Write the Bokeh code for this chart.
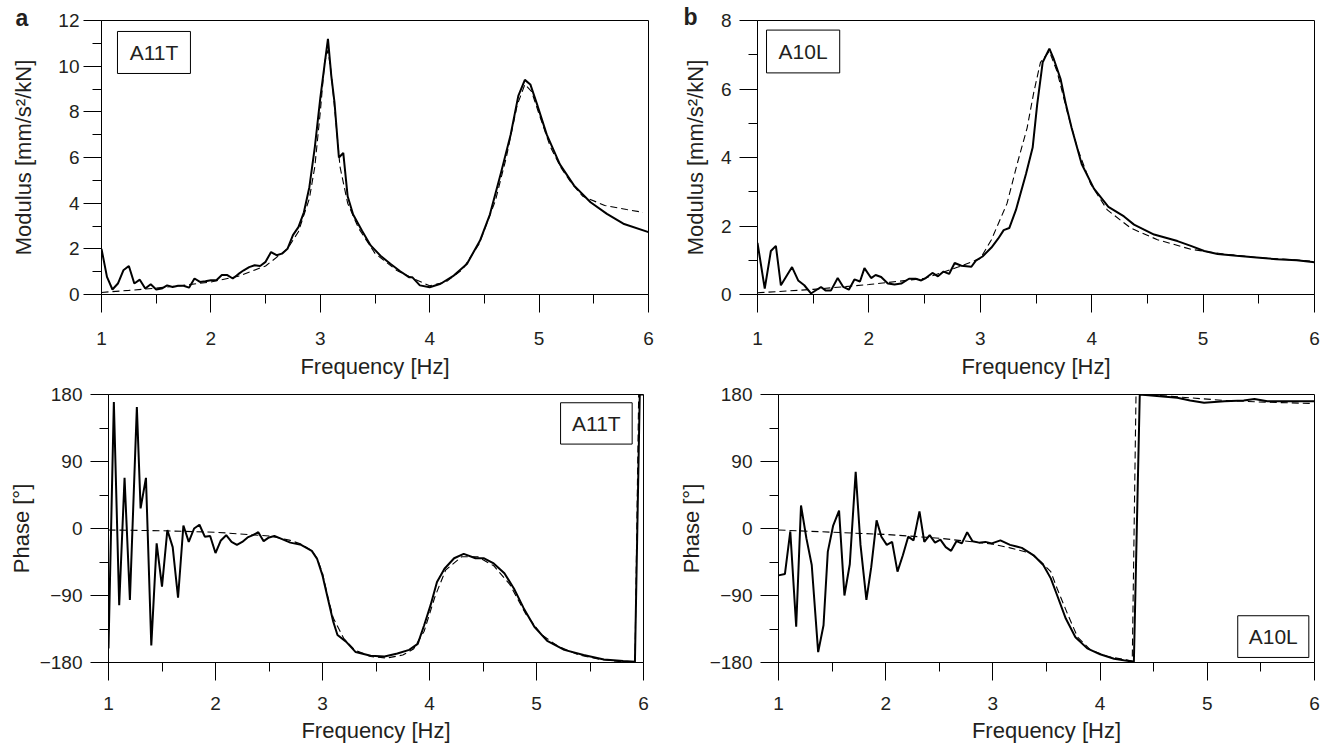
from bokeh.plotting import figure
from bokeh.layouts import column, row
from bokeh.models import Range1d, FixedTicker, Label, BoxAnnotation, Title
from bokeh.embed import file_html
from bokeh.resources import INLINE

FONT = "Liberation Sans"
TXT = "#231f20"

# ---------------- data ----------------
freq_ticks = [1, 2, 3, 4, 5, 6]
freq_minor = [1.5, 2.5, 3.5, 4.5, 5.5]
mod_a_ticks = [0, 2, 4, 6, 8, 10, 12]
mod_a_minor = [1, 3, 5, 7, 9, 11]
mod_b_ticks = [0, 2, 4, 6, 8]
mod_b_minor = [1, 3, 5, 7]
phase_ticks = [-180, -90, 0, 90, 180]
phase_minor = [-135, -45, 45, 135]

# (a) A11T modulus – measured
a_mod_f = [1.0, 1.05, 1.1, 1.15, 1.2, 1.25, 1.3, 1.35, 1.4, 1.45, 1.5, 1.55, 1.6, 1.65, 1.7,
           1.75, 1.8, 1.85, 1.9, 1.95, 2.0, 2.05, 2.1, 2.15, 2.2, 2.25, 2.3, 2.35, 2.4, 2.45,
           2.5, 2.55, 2.6, 2.65, 2.7, 2.75, 2.8, 2.85, 2.9, 2.95, 3.0, 3.04, 3.07, 3.1, 3.13,
           3.17, 3.21, 3.25, 3.3, 3.38, 3.46, 3.55, 3.64, 3.73, 3.81, 3.84, 3.91, 4.0, 4.1,
           4.22, 4.34, 4.46, 4.55, 4.65, 4.74, 4.81, 4.87, 4.92, 4.98, 5.07, 5.19, 5.32, 5.47,
           5.62, 5.77, 6.0]
a_mod_meas = [2.0, 0.77, 0.22, 0.48, 1.06, 1.25, 0.48, 0.65, 0.26, 0.45, 0.22, 0.26, 0.4, 0.33,
              0.38, 0.38, 0.3, 0.7, 0.55, 0.58, 0.62, 0.62, 0.85, 0.85, 0.7, 0.89, 1.06, 1.2,
              1.28, 1.25, 1.43, 1.86, 1.72, 1.79, 2.0, 2.6, 2.95, 3.6, 4.7, 6.45, 8.6, 10.1,
              11.2, 9.6, 8.4, 6.0, 6.2, 4.3, 3.5, 2.8, 2.15, 1.7, 1.35, 1.02, 0.76, 0.76, 0.4,
              0.32, 0.47, 0.83, 1.34, 2.36, 3.5, 5.3, 7.0, 8.7, 9.4, 9.2, 8.35, 7.0, 5.7, 4.77,
              4.04, 3.53, 3.1, 2.73]
# (a) A11T modulus – fitted
a_mod_fit_f = [1.0, 1.25, 1.5, 1.75, 2.0, 2.25, 2.5, 2.7, 2.8, 2.9, 2.95, 3.0, 3.04, 3.07, 3.1,
               3.14, 3.18, 3.25, 3.35, 3.5, 3.7, 3.85, 4.0, 4.15, 4.3, 4.45, 4.6, 4.7, 4.8, 4.87,
               4.93, 5.0, 5.1, 5.2, 5.3, 5.4, 5.6, 5.8, 5.95]
a_mod_fit = [0.09, 0.18, 0.28, 0.4, 0.55, 0.8, 1.25, 2.0, 2.75, 4.2, 5.6, 8.0, 10.2, 10.7, 9.7,
             7.7, 5.6, 4.0, 2.9, 1.8, 1.05, 0.7, 0.38, 0.55, 1.1, 2.2, 4.1, 6.0, 8.3, 9.2, 8.9,
             7.9, 6.5, 5.55, 4.85, 4.3, 3.9, 3.72, 3.6]

# (b) A10L modulus – measured
b_mod_f = [1.0, 1.065, 1.12, 1.165, 1.21, 1.31, 1.365, 1.42, 1.48, 1.57, 1.61, 1.66, 1.72, 1.77,
           1.82, 1.87, 1.92, 1.96, 2.02, 2.06, 2.11, 2.17, 2.23, 2.29, 2.36, 2.42, 2.47, 2.51,
           2.57, 2.62, 2.67, 2.72, 2.77, 2.83, 2.92, 2.96, 3.02, 3.1, 3.16, 3.21, 3.26, 3.32,
           3.41, 3.47, 3.51, 3.56, 3.62, 3.66, 3.72, 3.77, 3.82, 3.91, 4.02, 4.15, 4.29, 4.38,
           4.56, 4.77, 4.89, 5.01, 5.13, 5.3, 5.48, 5.66, 5.84, 6.0]
b_mod_meas = [1.51, 0.17, 1.27, 1.42, 0.27, 0.8, 0.41, 0.27, 0.03, 0.22, 0.12, 0.12, 0.48, 0.22,
              0.14, 0.44, 0.38, 0.77, 0.48, 0.57, 0.51, 0.32, 0.29, 0.32, 0.46, 0.46, 0.41, 0.48,
              0.63, 0.53, 0.67, 0.6, 0.92, 0.84, 0.81, 0.99, 1.11, 1.37, 1.63, 1.88, 1.94, 2.47,
              3.52, 4.29, 5.53, 6.78, 7.18, 6.87, 6.3, 5.53, 4.86, 3.81, 3.09, 2.56, 2.28, 2.04,
              1.75, 1.56, 1.42, 1.27, 1.18, 1.13, 1.08, 1.03, 1.0, 0.94]
# (b) A10L modulus – fitted
b_mod_fit_f = [1.0, 1.5, 2.0, 2.5, 2.8, 3.0, 3.1, 3.24, 3.33, 3.42, 3.48, 3.54, 3.62, 3.69, 3.78,
               3.87, 3.99, 4.14, 4.35, 4.59, 4.89, 5.19, 5.48, 5.96]
b_mod_fit = [0.05, 0.15, 0.29, 0.47, 0.8, 1.05, 1.6, 2.66, 3.8, 4.86, 5.9, 6.78, 7.1, 6.5, 5.34,
             4.29, 3.23, 2.47, 1.94, 1.6, 1.32, 1.18, 1.08, 0.98]

# (a) A11T phase – measured
a_ph_f = [1.0, 1.05, 1.1, 1.15, 1.2, 1.265, 1.3, 1.35, 1.4, 1.45, 1.5, 1.55, 1.6, 1.65, 1.7,
          1.75, 1.8, 1.85, 1.9, 1.95, 2.0, 2.05, 2.1, 2.15, 2.2, 2.25, 2.3, 2.35, 2.4, 2.45,
          2.5, 2.55, 2.6, 2.7, 2.8, 2.9, 2.95, 3.0, 3.05, 3.1, 3.14, 3.22, 3.31, 3.45, 3.58,
          3.7, 3.81, 3.89, 3.95, 4.01, 4.07, 4.14, 4.23, 4.32, 4.43, 4.51, 4.6, 4.7, 4.79,
          4.88, 4.98, 5.1, 5.26, 5.44, 5.63, 5.81, 5.92, 5.965, 6.0]
a_ph_meas = [-161, 170, -103, 68, -96, 163, 27, 68, -157, -20, -78, -2, -25, -93, 4, -18, 0, 5,
             -11, -10, -33, -16, -9, -18, -22, -18, -12, -9, -5, -17, -12, -10, -13, -19, -22,
             -30, -41, -63, -94, -125, -143, -152, -166, -171, -172, -168, -163, -155, -130,
             -103, -72, -54, -40, -34, -40, -40, -47, -60, -81, -107, -132, -151, -163, -170,
             -176, -178, -179, 180, 180]
# (a) A11T phase – fitted
a_ph_fit_f = [1.0, 1.5, 2.0, 2.5, 2.7, 2.8, 2.9, 2.95, 3.0, 3.05, 3.1, 3.2, 3.3, 3.45, 3.6, 3.75,
              3.85, 3.95, 4.05, 4.15, 4.3, 4.45, 4.6, 4.75, 4.9, 5.05, 5.2, 5.4, 5.6, 5.8, 5.92,
              5.955, 6.0]
a_ph_fit = [-2, -3, -5, -10, -16, -21, -30, -40, -60, -92, -120, -148, -163, -172, -174, -170,
            -162, -138, -92, -56, -38, -38, -50, -75, -115, -143, -158, -170, -176, -179, -180,
            180, 180]

# (b) A10L phase – measured
b_ph_f = [1.0, 1.06, 1.11, 1.165, 1.21, 1.26, 1.31, 1.37, 1.42, 1.46, 1.51, 1.565, 1.615, 1.665,
          1.72, 1.765, 1.82, 1.865, 1.915, 1.96, 2.01, 2.06, 2.11, 2.16, 2.21, 2.26, 2.315, 2.36,
          2.41, 2.46, 2.51, 2.56, 2.61, 2.66, 2.71, 2.76, 2.81, 2.87, 2.93, 2.99, 3.07, 3.16,
          3.27, 3.38, 3.47, 3.54, 3.6, 3.68, 3.77, 3.88, 4.0, 4.13, 4.22, 4.315, 4.37, 4.53,
          4.72, 4.84, 4.97, 5.16, 5.34, 5.44, 5.56, 5.78, 6.0]
b_ph_meas = [-63, -61, -4, -132, 31, -13, -49, -166, -130, -31, 4, 24, -90, -48, 76, -22, -96,
             -52, 11, -11, -22, -18, -58, -36, -11, -16, 23, -18, -9, -19, -15, -25, -30, -17,
             -20, -5, -17, -19, -18, -20, -16, -22, -26, -36, -49, -67, -90, -121, -146, -161,
             -169, -175, -177, -179, 180, 178, 175.5, 172, 169, 171, 172, 174, 171, 171, 171]
# (b) A10L phase – fitted
b_ph_fit_f = [1.0, 1.5, 2.0, 2.5, 3.0, 3.16, 3.35, 3.45, 3.54, 3.6, 3.7, 3.79, 3.91, 4.07, 4.3,
              4.335, 4.53, 4.84, 5.16, 5.47, 5.97]
b_ph_fit = [-2, -5, -8, -13, -21, -26, -33, -45, -58, -81, -116, -146, -163, -172, -178, 180,
            179, 175.5, 172, 170, 168]


def make_fig(yr, fw, fh, bl, br, bt, bb, yticks, yminor, ylabel,
             ylab_standoff, ytick_standoff, xtick_standoff, xlab_standoff):
    p = figure(x_range=Range1d(1, 6), y_range=Range1d(*yr),
               frame_width=fw, frame_height=fh,
               min_border_left=bl, min_border_right=br,
               min_border_top=bt, min_border_bottom=bb,
               output_backend="svg", toolbar_location=None)
    p.grid.visible = False
    p.outline_line_color = "black"
    p.outline_line_alpha = 1
    p.outline_line_width = 1
    p.background_fill_color = "white"
    p.border_fill_color = "white"
    xa = p.xaxis[0]
    ya = p.yaxis[0]
    xa.ticker = FixedTicker(ticks=freq_ticks, minor_ticks=freq_minor)
    ya.ticker = FixedTicker(ticks=yticks, minor_ticks=yminor)
    xa.axis_label = "Frequency [Hz]"
    ya.axis_label = ylabel
    for ax in (xa, ya):
        ax.axis_line_color = "black"
        ax.axis_line_width = 1
        ax.major_tick_line_color = "black"
        ax.minor_tick_line_color = "black"
        ax.major_tick_line_width = 1
        ax.minor_tick_line_width = 1
        ax.major_tick_in = 0
        ax.major_tick_out = 18
        ax.minor_tick_in = 0
        ax.minor_tick_out = 9
        ax.major_label_text_font = FONT
        ax.major_label_text_font_size = "19px"
        ax.major_label_text_color = TXT
        ax.axis_label_text_font = FONT
        ax.axis_label_text_font_size = "22px"
        ax.axis_label_text_font_style = "normal"
        ax.axis_label_text_color = TXT
    xa.major_label_standoff = xtick_standoff
    xa.axis_label_standoff = xlab_standoff
    ya.major_label_standoff = ytick_standoff
    ya.axis_label_standoff = ylab_standoff
    return p


def box_label(p, text, left, right, bottom, top):
    p.add_layout(BoxAnnotation(left=left, right=right, bottom=bottom, top=top,
                               fill_color=None, fill_alpha=0, line_color="black",
                               line_alpha=1, line_width=1))
    p.add_layout(Label(x=(left + right) / 2, y=(bottom + top) / 2, text=text,
                       text_align="center", text_baseline="middle",
                       text_font=FONT, text_font_size="21px", text_color=TXT))


def panel_letter(p, text, offset, standoff):
    p.add_layout(Title(text=text, align="left", offset=offset, standoff=standoff,
                       text_font=FONT, text_font_size="23px", text_font_style="bold",
                       text_color=TXT, text_line_height=0.5), "above")


def draw(p, fx, fy, mx, my):
    p.line(fx, fy, line_color="black", line_width=1.1, line_dash="7 4")
    p.line(mx, my, line_color="black", line_width=2)


# ---- top-left (a) modulus
p1 = make_fig((0, 12), 547, 274, 101, 27, 20, 86, mod_a_ticks, mod_a_minor,
              "Modulus [mm/s²/kN]", 19, 4, 19, 6)
draw(p1, a_mod_fit_f, a_mod_fit, a_mod_f, a_mod_meas)
box_label(p1, "A11T", 1.146, 1.813, 9.68, 11.52)
panel_letter(p1, "a", -86, -20)

# ---- top-right (b) modulus
p2 = make_fig((0, 8), 557, 274, 82, 10, 20, 86, mod_b_ticks, mod_b_minor,
              "Modulus [mm/s²/kN]", 10, 8, 19, 6)
draw(p2, b_mod_fit_f, b_mod_fit, b_mod_f, b_mod_meas)
box_label(p2, "A10L", 1.081, 1.738, 6.47, 7.72)
panel_letter(p2, "b", -74, -19)

# ---- bottom-left (a) phase
p3 = make_fig((-180, 180), 535, 268, 108, 27, 13, 80, phase_ticks, phase_minor,
              "Phase [°]", 3, 8, 16, 5)
draw(p3, a_ph_fit_f, a_ph_fit, a_ph_f, a_ph_meas)
box_label(p3, "A11T", 5.225, 5.894, 113.4, 168.9)

# ---- bottom-right (b) phase
p4 = make_fig((-180, 180), 536, 268, 108, 10, 13, 80, phase_ticks, phase_minor,
              "Phase [°]", 3, 8, 16, 5)
draw(p4, b_ph_fit_f, b_ph_fit, b_ph_f, b_ph_meas)
box_label(p4, "A10L", 5.284, 5.947, -173.2, -117.2)

layout = column(row(p1, p2), row(p3, p4))
open("out.html", "w").write(file_html(layout, INLINE))
